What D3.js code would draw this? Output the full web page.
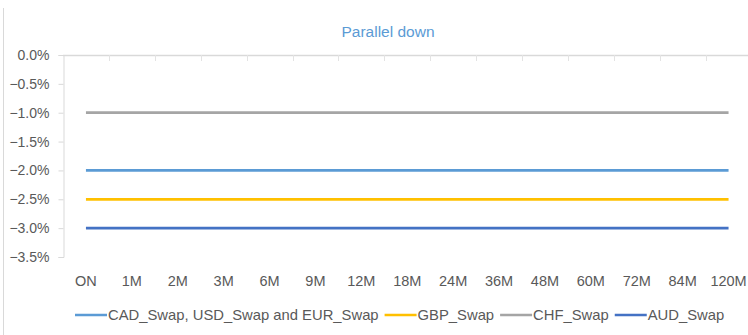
<!DOCTYPE html>
<html>
<head>
<meta charset="utf-8">
<script src="https://cdn.jsdelivr.net/npm/d3@7/dist/d3.min.js"></script>
<style>
  html, body { margin: 0; padding: 0; background: #fff; }
  svg { display: block; }
  text { font-family: "Liberation Sans", Arial, sans-serif; }
</style>
</head>
<body>
<svg id="chart" width="748" height="335"></svg>
<script>
// Tenor buckets along the curve
const tenors = ["ON", "1M", "2M", "3M", "6M", "9M", "12M", "18M", "24M", "36M", "48M", "60M", "72M", "84M", "120M"];

// Shock sizes per curve, in percent
const cadUsdEur = [-2.0, -2.0, -2.0, -2.0, -2.0, -2.0, -2.0, -2.0, -2.0, -2.0, -2.0, -2.0, -2.0, -2.0, -2.0];
const gbp       = [-2.5, -2.5, -2.5, -2.5, -2.5, -2.5, -2.5, -2.5, -2.5, -2.5, -2.5, -2.5, -2.5, -2.5, -2.5];
const chf       = [-1.0, -1.0, -1.0, -1.0, -1.0, -1.0, -1.0, -1.0, -1.0, -1.0, -1.0, -1.0, -1.0, -1.0, -1.0];
const aud       = [-3.0, -3.0, -3.0, -3.0, -3.0, -3.0, -3.0, -3.0, -3.0, -3.0, -3.0, -3.0, -3.0, -3.0, -3.0];

const seriesNames = ["CAD_Swap, USD_Swap and EUR_Swap", "GBP_Swap", "CHF_Swap", "AUD_Swap"];
const yTicks = [0, -0.5, -1.0, -1.5, -2.0, -2.5, -3.0, -3.5];
const title = "Parallel down";

const series = [
  { name: seriesNames[0], values: cadUsdEur, color: "#5B9BD5" },
  { name: seriesNames[1], values: gbp,       color: "#FFC000" },
  { name: seriesNames[2], values: chf,       color: "#A5A5A5" },
  { name: seriesNames[3], values: aud,       color: "#4472C4" }
];

const svg = d3.select("#chart");

const plot = { left: 63, right: 751.5, top: 55, bottom: 257 };

const x = d3.scaleBand().domain(tenors).range([plot.left, plot.right]).padding(0);
const xc = d => x(d) + x.bandwidth() / 2;
const y = d3.scaleLinear().domain([-3.5, 0]).range([plot.bottom, plot.top]);

// outer chart-area border on the left
svg.append("line")
  .attr("x1", 3.5).attr("x2", 3.5).attr("y1", 8).attr("y2", 335)
  .attr("stroke", "#d9d9d9").attr("stroke-width", 1);

// title
svg.append("text")
  .attr("x", 388).attr("y", 37)
  .attr("text-anchor", "middle")
  .attr("font-size", 15.5)
  .attr("fill", "#5B9BD5")
  .text(title);

// y axis
const yAxis = d3.axisLeft(y)
  .tickValues(yTicks)
  .tickSize(5)
  .tickPadding(9)
  .tickFormat(d => d3.format(".1f")(d) + "%");

const gy = svg.append("g")
  .attr("transform", `translate(${plot.left + 0.5},0)`)
  .call(yAxis);
gy.select(".domain").attr("stroke", "#d9d9d9");
gy.selectAll(".tick line").attr("stroke", "#d9d9d9");
gy.selectAll(".tick text")
  .attr("font-size", 14)
  .attr("font-family", "Liberation Sans, Arial, sans-serif")
  .attr("fill", "#595959");

// category axis along the zero line, ticks at band boundaries
svg.append("line")
  .attr("x1", plot.left).attr("x2", 748)
  .attr("y1", y(0) + 0.5).attr("y2", y(0) + 0.5)
  .attr("stroke", "#d9d9d9").attr("stroke-width", 1.5);

svg.append("g").selectAll("line")
  .data(tenors.slice(1))
  .join("line")
  .attr("x1", d => Math.round(x(d)) + 0.5)
  .attr("x2", d => Math.round(x(d)) + 0.5)
  .attr("y1", y(0)).attr("y2", y(0) + 6)
  .attr("stroke", "#e3e3e3");

// category labels below the plot
svg.append("g").selectAll("text")
  .data(tenors)
  .join("text")
  .attr("x", d => xc(d))
  .attr("y", 286)
  .attr("text-anchor", "middle")
  .attr("font-size", 14.5)
  .attr("fill", "#595959")
  .text(d => d);

// series lines
const line = d3.line()
  .x((d, i) => xc(tenors[i]))
  .y(d => y(d));

svg.append("g").selectAll("path")
  .data(series)
  .join("path")
  .attr("d", s => line(s.values))
  .attr("fill", "none")
  .attr("stroke", s => s.color)
  .attr("stroke-width", 2.75);

// legend
const legend = svg.append("g").attr("transform", "translate(75,315)");
let lx = 0;
series.forEach(s => {
  const g = legend.append("g").attr("transform", `translate(${lx},0)`);
  g.append("line")
    .attr("x1", 0).attr("x2", 32).attr("y1", 0).attr("y2", 0)
    .attr("stroke", s.color).attr("stroke-width", 2.5);
  const t = g.append("text")
    .attr("x", 33).attr("y", 5.3)
    .attr("font-size", 14.8)
    .attr("fill", "#595959")
    .text(s.name);
  lx += 33 + t.node().getComputedTextLength() + 6;
});
</script>
</body>
</html>
